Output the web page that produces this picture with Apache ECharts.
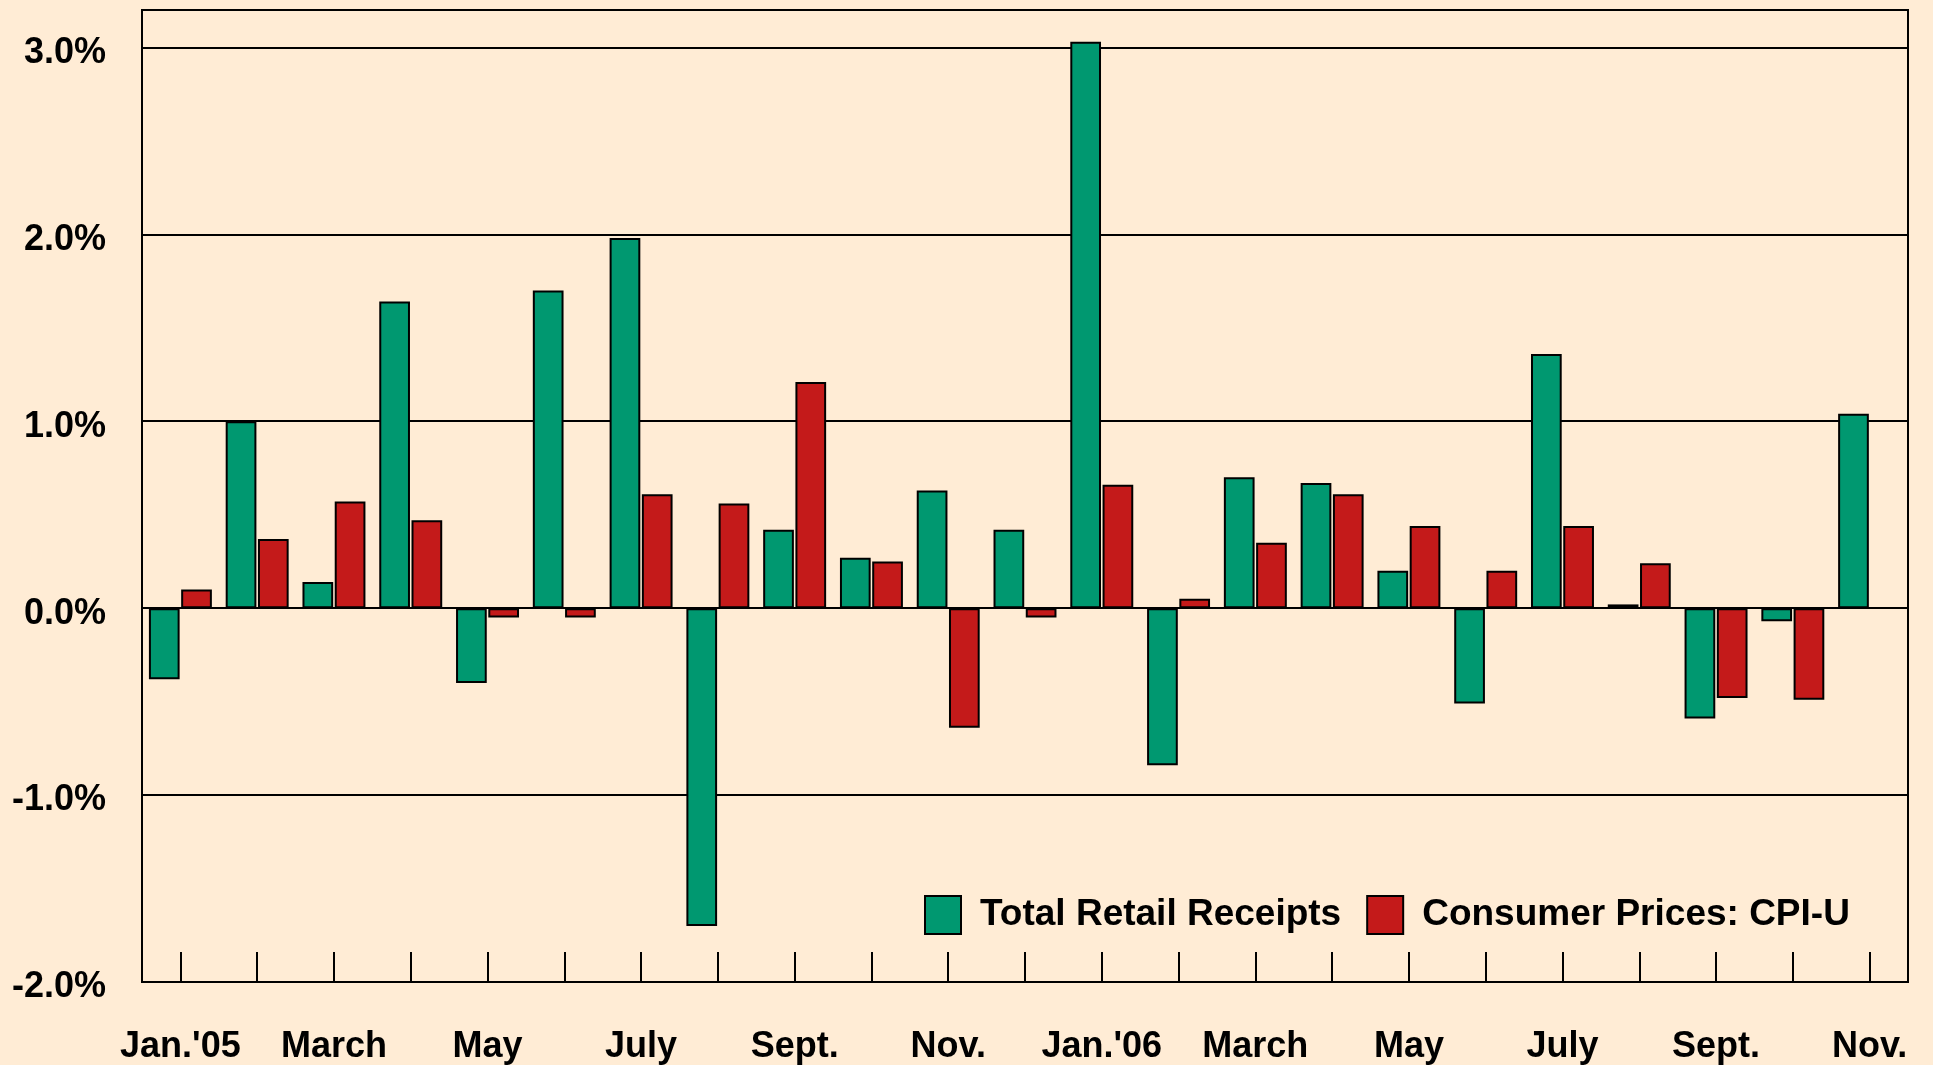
<!DOCTYPE html>
<html>
<head>
<meta charset="utf-8">
<script src="https://cdn.jsdelivr.net/npm/echarts@6/dist/echarts.min.js"></script>
<style>
  html, body { margin: 0; padding: 0; background: #FFECD5; }
  #chart { width: 1933px; height: 1065px; }
</style>
</head>
<body>
<div id="chart"></div>
<script>
var months = ["Jan.'05", "Feb.'05", "Mar.'05", "Apr.'05", "May'05", "Jun.'05", "Jul.'05", "Aug.'05", "Sep.'05", "Oct.'05", "Nov.'05", "Dec.'05",
              "Jan.'06", "Feb.'06", "Mar.'06", "Apr.'06", "May'06", "Jun.'06", "Jul.'06", "Aug.'06", "Sep.'06", "Oct.'06", "Nov.'06"];
var monthLabels = ["Jan.'05", "", "March", "", "May", "", "July", "", "Sept.", "", "Nov.", "",
                   "Jan.'06", "", "March", "", "May", "", "July", "", "Sept.", "", "Nov."];
var retail = [-0.38, 1.0, 0.14, 1.64, -0.40, 1.70, 1.98, -1.70, 0.42, 0.27, 0.63, 0.42,
              3.03, -0.84, 0.70, 0.67, 0.20, -0.51, 1.36, 0.02, -0.59, -0.07, 1.04];
var cpi = [0.10, 0.37, 0.57, 0.47, -0.05, -0.05, 0.61, 0.56, 1.21, 0.25, -0.64, -0.05,
           0.66, 0.05, 0.35, 0.61, 0.44, 0.20, 0.44, 0.24, -0.48, -0.49, null];
var yTicks = [-2, -1, 0, 1, 2, 3];

var chart = echarts.init(document.getElementById('chart'));
var font = 'Liberation Sans, Arial, sans-serif';

var option = {
    backgroundColor: '#FFECD5',
    animation: false,
    grid: {
        left: 142, right: 25, top: 10, bottom: 82,
        show: true, borderColor: '#000', borderWidth: 2
    },
    legend: {
        left: 924, top: 895, padding: 0,
        itemWidth: 36, itemHeight: 38, itemGap: 25,
        icon: 'rect',
        textStyle: { color: '#000', fontFamily: font, fontWeight: 'bold', fontSize: 37, padding: [0, 0, 0, 14] },
        data: ['Total Retail Receipts', 'Consumer Prices: CPI-U']
    },
    xAxis: {
        type: 'category',
        data: months,
        axisLine: { onZero: false, lineStyle: { color: '#000', width: 2 } },
        axisTick: { show: true, inside: true, length: 30, alignWithLabel: true, interval: 0, lineStyle: { color: '#000', width: 2 } },
        axisLabel: {
            interval: 0, margin: 47, color: '#000', fontFamily: font, fontWeight: 'bold', fontSize: 36,
            formatter: function (v, i) { return monthLabels[i]; }
        }
    },
    yAxis: {
        type: 'value',
        min: -2, max: 3.2, interval: 1,
        axisLine: { show: true, lineStyle: { color: '#000', width: 2 } },
        axisTick: { show: false },
        splitLine: { lineStyle: { color: '#000', width: 2 } },
        axisLabel: {
            margin: 36, color: '#000', fontFamily: font, fontWeight: 'bold', fontSize: 36,
            verticalAlign: 'top', lineHeight: 11,
            formatter: function (v) { return yTicks.indexOf(v) >= 0 ? v.toFixed(1) + '%' : ''; }
        }
    },
    series: [
        {
            name: 'Total Retail Receipts', type: 'bar', data: retail,
            barCategoryGap: '18%', barGap: '5%',
            itemStyle: { color: '#009870', borderColor: '#000', borderWidth: 2 }
        },
        {
            name: 'Consumer Prices: CPI-U', type: 'bar', data: cpi,
            itemStyle: { color: '#C41A1A', borderColor: '#000', borderWidth: 2 }
        }
    ]
};

chart.setOption(option);
</script>
</body>
</html>
